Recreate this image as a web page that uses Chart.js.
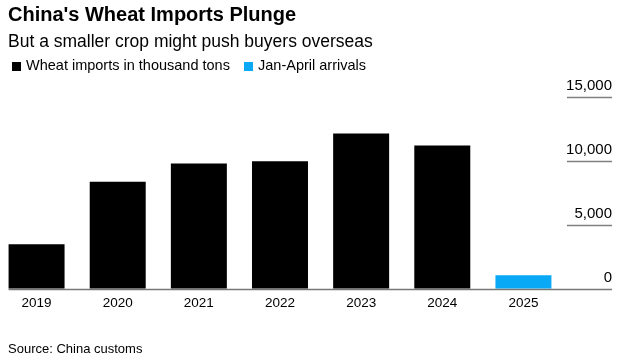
<!DOCTYPE html>
<html>
<head>
<meta charset="utf-8">
<script src="https://cdn.jsdelivr.net/npm/chart.js@4"></script>
<style>
html,body{margin:0;padding:0;background:#fff;overflow:hidden;}
#wrap{position:relative;width:626px;height:361px;overflow:hidden;font-family:"Liberation Sans",Arial,sans-serif;color:#000;}
#grafico{position:absolute;left:-4px;top:0;}
.txt{position:absolute;white-space:nowrap;}
#titulo{left:8px;top:2px;font-size:20px;line-height:24px;font-weight:bold;}
#subtitulo{left:8px;top:31px;font-size:17.5px;line-height:21px;}
.caja{position:absolute;width:9px;height:9px;top:62px;}
.ley{top:57px;font-size:14.5px;line-height:17px;}
#fuente{left:8px;top:341px;font-size:13px;line-height:16px;}
</style>
</head>
<body>
<div id="wrap">
<canvas id="grafico" width="630" height="361"></canvas>
<div class="txt" id="titulo">China's Wheat Imports Plunge</div>
<div class="txt" id="subtitulo">But a smaller crop might push buyers overseas</div>
<div id="leyenda"></div>
<div class="txt" id="fuente">Source: China customs</div>
</div>
<script>
// datos (miles de toneladas)
const anios=["2019","2020","2021","2022","2023","2024","2025"]
const importaciones=[3490,8380,9790,9980,12150,11200,null]
const eneAbr=[null,null,null,null,null,null,1060]
const marcasY=[0,5000,10000,15000]

const series=[
{nombre:"Wheat imports in thousand tons",datos:importaciones,color:"#000000"},
{nombre:"Jan-April arrivals",datos:eneAbr,color:"#0aa9f5"}
]

const fuenteBase='"Liberation Sans", Arial, sans-serif'

// leyenda en html, posiciones fijas como el original
const posLeyenda=[12,244]
const leyenda=document.getElementById("leyenda")
series.forEach((s,i)=>{
const caja=document.createElement("div")
caja.className="caja"
caja.style.left=posLeyenda[i]+"px"
caja.style.background=s.color
leyenda.appendChild(caja)
const t=document.createElement("div")
t.className="txt ley"
t.style.left=(posLeyenda[i]+14)+"px"
t.textContent=s.nombre
leyenda.appendChild(t)
})

// lineas cortas de la grilla y linea base
const lineasPlugin={
id:"lineas",
afterDraw(chart){
const ctx=chart.ctx
const y=chart.scales.y
const derecha=y.right
ctx.save()
ctx.strokeStyle="#808080"
ctx.lineWidth=1.3
marcasY.forEach(v=>{
if(v===0)return
const py=Math.round(y.getPixelForValue(v))+0.5
ctx.beginPath()
ctx.moveTo(chart.chartArea.right+3,py)
ctx.lineTo(derecha,py)
ctx.stroke()
})
const barra=chart.getDatasetMeta(0).data[0]
const izq=barra.x-barra.width/2
const p0=Math.round(y.getPixelForValue(0))+0.5
ctx.strokeStyle="#777"
ctx.beginPath()
ctx.moveTo(izq,p0)
ctx.lineTo(derecha,p0)
ctx.stroke()
ctx.restore()
}
}

const ctx=document.getElementById("grafico")

new Chart(ctx,{
type:"bar",
data:{
labels:anios,
datasets:series.map(s=>({label:s.nombre,data:s.datos,backgroundColor:s.color}))
},
plugins:[lineasPlugin],
options:{
responsive:false,
animation:false,
layout:{padding:{left:0,right:14,top:97,bottom:44}},
datasets:{bar:{grouped:false,barPercentage:0.69,categoryPercentage:1}},
scales:{
x:{
grid:{display:false,drawTicks:false},
border:{display:false},
ticks:{color:"#000",padding:6,font:{family:fuenteBase,size:13.5},maxRotation:0}
},
y:{
position:"right",
min:0,
max:15000,
afterBuildTicks:s=>{s.ticks=marcasY.map(v=>({value:v}))},
afterFit:s=>{s.width=48},
grid:{display:false,drawTicks:false},
border:{display:false},
ticks:{
color:"#000",
padding:2,
crossAlign:"far",
labelOffset:-11,
font:{family:fuenteBase,size:15},
callback:v=>v.toLocaleString("en-US")
}
}
},
plugins:{
legend:{display:false},
tooltip:{enabled:false}
}
}
})
</script>
</body>
</html>
